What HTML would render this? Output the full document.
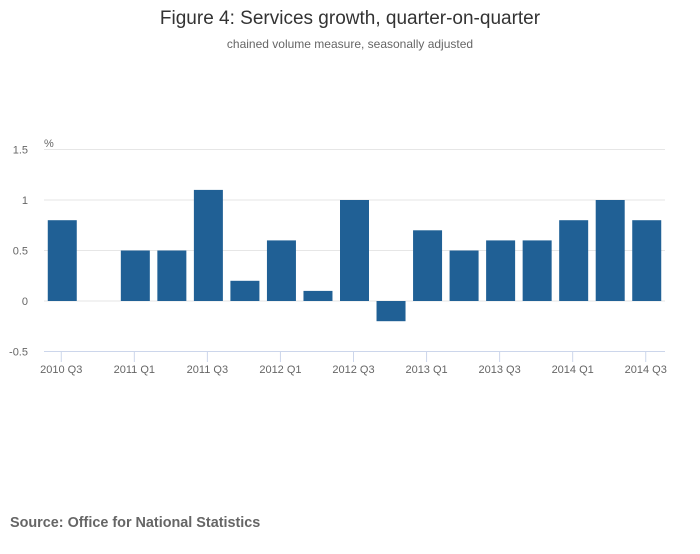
<!DOCTYPE html>
<html><head><meta charset="utf-8"><style>
body{margin:0;background:#fff;width:700px;height:549px;overflow:hidden;font-family:"Liberation Sans",sans-serif}
</style></head><body>
<svg width="700" height="549" xmlns="http://www.w3.org/2000/svg">
<text x="350" y="24" text-anchor="middle" font-size="19" fill="#333">Figure 4: Services growth, quarter-on-quarter</text>
<text x="350" y="48" text-anchor="middle" font-size="12" fill="#666">chained volume measure, seasonally adjusted</text>
<text x="44" y="147" font-size="11" fill="#666">%</text>
<g id="grid"></g><g id="bars"></g><g id="xaxis"></g>
<text x="10" y="527" font-size="14.4" font-weight="bold" fill="#666">Source: Office for National Statistics</text>
</svg>
<script>
const categories=["2010 Q3","2010 Q4","2011 Q1","2011 Q2","2011 Q3","2011 Q4","2012 Q1","2012 Q2","2012 Q3","2012 Q4","2013 Q1","2013 Q2","2013 Q3","2013 Q4","2014 Q1","2014 Q2","2014 Q3"];
const values=[0.8,0,0.5,0.5,1.1,0.2,0.6,0.1,1.0,-0.2,0.7,0.5,0.6,0.6,0.8,1.0,0.8];
const yTicks=[1.5,1,0.5,0,-0.5];
const yTickLabels=["1.5","1","0.5","0","-0.5"];
const NS="http://www.w3.org/2000/svg";
const x0=44,x1=665,step=(x1-x0)/categories.length;
const y=v=>301-v*101;
const xc=i=>x0+step*(i+0.5);
function mk(t,a,p){const e=document.createElementNS(NS,t);for(const k in a)e.setAttribute(k,a[k]);p.appendChild(e);return e;}
const g=document.getElementById('grid');
yTicks.forEach((v,i)=>{
 const l=mk('line',{x1:x0,x2:x1,y1:y(v),y2:y(v),stroke:i===4?'#ccd6eb':'#e6e6e6','stroke-width':1},g);
 
 
 const t=mk('text',{x:28,y:y(v)+4,'text-anchor':'end','font-size':11,fill:'#666'},g);
 t.textContent=yTickLabels[i];
 
 
});
const b=document.getElementById('bars');
values.forEach((v,i)=>{
 const r=mk('rect',{x:xc(i)-14.5,width:29,y:Math.min(y(v),y(0)),height:Math.abs(y(v)-y(0)),fill:'#206095'},b);
 
 
});
const xa=document.getElementById('xaxis');
categories.forEach((c,i)=>{
 if(i%2)return;
 const tk=mk('line',{x1:xc(i)-1,x2:xc(i)-1,y1:352,y2:362,stroke:'#ccd6eb'},xa);
 
 
 const t=mk('text',{x:xc(i)-1,y:373,'text-anchor':'middle','font-size':11,fill:'#666'},xa);
 t.textContent=c;
 
 
});
</script>
</body></html>
